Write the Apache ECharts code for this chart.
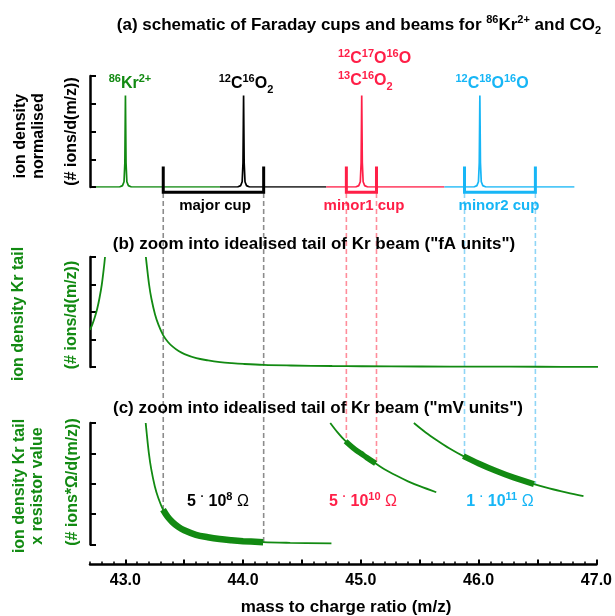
<!DOCTYPE html>
<html>
<head>
<meta charset="utf-8">
<script src="https://cdn.jsdelivr.net/npm/echarts@6/dist/echarts.min.js"></script>
<style>
  html, body { margin: 0; padding: 0; background: #fff; }
  #main { width: 615px; height: 616px; }
</style>
</head>
<body>
<div id="main"></div>
<script>
// x range (m/z)
const xMin = 42.7
const xMax = 47.0
const majorTicks = [43.0, 43.5, 44.0, 44.5, 45.0, 45.5, 46.0, 46.5, 47.0]
const tickLabels = [43.0, 44.0, 45.0, 46.0, 47.0]

// (a) beams: peak centre, start/end of the baseline segment
const beamCenters = [43.0, 44.0, 45.0, 46.0]
const beamStart = [42.75, 43.8, 44.7, 45.7]
const beamEnd = [43.8, 44.7, 45.7, 46.8]
// shape of one normalised peak (offset from centre, height)
const peakOffsets = [-0.05, -0.025, -0.012, -0.005, -0.002, 0, 0.002, 0.005, 0.012, 0.025, 0.05]
const peakHeights = [0, 0.05, 0.19, 0.87, 2.3, 3.3, 2.3, 0.87, 0.19, 0.05, 0]

// Faraday cups (edges in m/z)
const cupNames = ['major cup', 'minor1 cup', 'minor2 cup']
const cupLo = [43.32, 44.87, 45.87]
const cupHi = [44.17, 45.125, 46.47]
const cupTop = 0.74
const cupFloor = -0.19

// (b) tail of the Kr beam, "fA units"
const tailLeftMz = [42.70, 42.72, 42.74, 42.76, 42.78, 42.80, 42.82, 42.827]
const tailLeftB = [1.35, 1.55, 1.80, 2.10, 2.50, 3.00, 3.70, 4.00]
const tailMz = [43.173, 43.18, 43.20, 43.22, 43.25, 43.28, 43.32, 43.36, 43.40, 43.45, 43.50, 43.60,
  43.70, 43.80, 43.90, 44.00, 44.17, 44.40, 44.75, 45.00, 45.50, 46.00, 46.50, 47.00]
const tailB = [4.00, 3.72, 3.00, 2.48, 1.92, 1.53, 1.15, 0.91, 0.74, 0.58, 0.47, 0.32,
  0.24, 0.18, 0.14, 0.11, 0.075, 0.055, 0.036, 0.028, 0.018, 0.012, 0.009, 0.007]

// (c) tail x resistor value, "mV units"
const c1Mz = tailMz.slice(0, 19)
const c1Val = tailB.slice(0, 19)
const c2Mz = [44.74, 44.80, 44.87, 44.95, 45.00, 45.05, 45.125, 45.20, 45.30, 45.40, 45.50, 45.64]
const c2Val = [4.00, 3.70, 3.40, 3.13, 3.00, 2.86, 2.67, 2.48, 2.27, 2.08, 1.92, 1.72]
const c3Mz = [45.45, 45.55, 45.65, 45.75, 45.87, 46.00, 46.15, 46.30, 46.47, 46.60, 46.75, 46.89]
const c3Val = [4.00, 3.69, 3.42, 3.17, 2.91, 2.67, 2.42, 2.20, 1.99, 1.85, 1.71, 1.59]

const GREEN = '#128a12', RED = '#ff1f47', BLUE = '#17b6f6', BLACK = '#000'
const beamColors = [GREEN, BLACK, RED, BLUE]
const cupColors = [BLACK, RED, BLUE]
const dashColors = ['#8c8c8c', '#ff8d9b', '#8fd5f6']
const FONT = '"Liberation Sans", Arial, Helvetica, sans-serif'

const zip = (a, b) => a.map((x, i) => [x, b[i]])

// grids (a), (b), (c) and one overlay for the dashed cup lines
const gA = { left: 90, right: 17, top: 76, height: 111 }
const gB = { left: 90, right: 17, top: 257, height: 110 }
const gC = { left: 90, right: 17, top: 423, height: 121.5 }
const overlayTop = 193
const gD = { left: 90, right: 17, top: overlayTop, height: gC.top + gC.height - overlayTop }
const overlayMax = gD.height / (gC.height / 4)

var myChart = echarts.init(document.getElementById('main'))

function yAx(gi) {
  return {
    gridIndex: gi, type: 'value', min: 0, max: 4, interval: 1,
    axisLine: { show: true, onZero: false, lineStyle: { color: BLACK, width: 2.5 } },
    axisTick: { show: true, inside: true, length: 6, lineStyle: { color: BLACK, width: 2 } },
    axisLabel: { show: false }, splitLine: { show: false }
  }
}
function hiddenX(gi) {
  return { gridIndex: gi, type: 'value', min: xMin, max: xMax, show: false, axisLine: { onZero: false } }
}

let series = []
const SMOOTH = 0.35

// (a) beams
beamCenters.forEach((c, i) => {
  let d = [[beamStart[i], 0]]
  peakOffsets.forEach((o, k) => d.push([+(c + o).toFixed(4), peakHeights[k]]))
  d.push([beamEnd[i], 0])
  series.push({
    type: 'line', xAxisIndex: 0, yAxisIndex: 0, data: d, symbol: 'none',
    lineStyle: { color: beamColors[i], width: 1.7 }, z: 2
  })
})
// (a) cups
cupLo.forEach((lo, i) => {
  series.push({
    type: 'line', xAxisIndex: 0, yAxisIndex: 0, clip: false, symbol: 'none',
    data: [[lo, cupTop], [lo, cupFloor], [cupHi[i], cupFloor], [cupHi[i], cupTop]],
    lineStyle: { color: cupColors[i], width: 3, join: 'miter' }, z: 3
  })
})

// (b) tail
series.push({
  type: 'line', xAxisIndex: 1, yAxisIndex: 1, data: zip(tailLeftMz, tailLeftB),
  symbol: 'none', smooth: SMOOTH, lineStyle: { color: GREEN, width: 1.8 }, z: 2
})
series.push({
  type: 'line', xAxisIndex: 1, yAxisIndex: 1, data: zip(tailMz, tailB),
  symbol: 'none', smooth: SMOOTH, lineStyle: { color: GREEN, width: 1.8 }, z: 2
})

// (c) curves, thick where a cup collects them
const cCurves = [[c1Mz, c1Val, 6.5], [c2Mz, c2Val, 5.5], [c3Mz, c3Val, 6]]
cCurves.forEach(([mz, val, w], i) => {
  series.push({
    type: 'line', xAxisIndex: 2, yAxisIndex: 2, data: zip(mz, val),
    symbol: 'none', smooth: SMOOTH, lineStyle: { color: GREEN, width: 1.8 }, z: 2
  })
  let a = mz.indexOf(cupLo[i]), b = mz.indexOf(cupHi[i])
  series.push({
    type: 'line', xAxisIndex: 2, yAxisIndex: 2, data: zip(mz.slice(a, b + 1), val.slice(a, b + 1)),
    symbol: 'none', smooth: SMOOTH, lineStyle: { color: GREEN, width: w, cap: 'butt' }, z: 3
  })
  // dashed lines from the cup down to the curve in (c)
  ;[a, b].forEach(k => {
    series.push({
      type: 'line', xAxisIndex: 4, yAxisIndex: 3, symbol: 'none',
      data: [[mz[k], overlayMax], [mz[k], val[k]]],
      lineStyle: { color: dashColors[i], width: 1.6, type: [5, 3] }, z: 1
    })
  })
})

// texts
const RICH = {
  m: { fontFamily: FONT, fontSize: 16, fontWeight: 'bold', lineHeight: 22 },
  t: { fontFamily: FONT, fontSize: 17, fontWeight: 'bold', lineHeight: 22 },
  s: { fontFamily: FONT, fontSize: 11, fontWeight: 'bold', lineHeight: 11, verticalAlign: 'top' },
  b: { fontFamily: FONT, fontSize: 11, fontWeight: 'bold', lineHeight: 11, verticalAlign: 'bottom' },
  k: { fontFamily: FONT, fontSize: 15, fontWeight: 'bold', lineHeight: 22 },
  n: { fontFamily: FONT, fontSize: 16, fontWeight: 'bold', lineHeight: 22 },
  o: { fontFamily: FONT, fontSize: 16, fontWeight: 'normal', lineHeight: 22 },
  r: { fontFamily: FONT, fontSize: 16, fontWeight: 'bold', lineHeight: 18 }
}
function txt(x, y, text, fill, extra) {
  return Object.assign({
    type: 'text', x: x, y: y, z: 100, silent: true,
    style: Object.assign({
      text: text, fill: fill, rich: RICH,
      align: 'center', verticalAlign: 'middle', textAlign: 'center', textVerticalAlign: 'middle'
    }, (extra && extra.style) || {})
  }, extra ? { rotation: extra.rotation || 0 } : {})
}
const ROT = { rotation: Math.PI / 2 }

const graphics = [
  // titles
  txt(359, 25, '{t|(a) schematic of Faraday cups and beams for }{s|86}{t|Kr}{s|2+}{t| and CO}{b|2}', BLACK),
  txt(314, 244, '{t|(b) zoom into idealised tail of Kr beam ("fA units")}', BLACK),
  txt(318, 408, '{t|(c) zoom into idealised tail of Kr beam ("mV units")}', BLACK),
  // peak labels
  txt(130, 84, '{s|86}{m|Kr}{s|2+}', GREEN),
  txt(246, 84, '{s|12}{m|C}{s|16}{m|O}{b|2}', BLACK),
  txt(338, 70, '{s|12}{m|C}{s|17}{m|O}{s|16}{m|O}\n{s|13}{m|C}{s|16}{m|O}{b|2}', RED,
    { style: { align: 'left', textAlign: 'left' } }),
  txt(492, 84, '{s|12}{m|C}{s|18}{m|O}{s|16}{m|O}', BLUE),
  // cup labels
  txt(215, 205.5, '{k|' + cupNames[0] + '}', BLACK),
  txt(364, 205.5, '{k|' + cupNames[1] + '}', RED),
  txt(499, 205.5, '{k|' + cupNames[2] + '}', BLUE),
  // resistor labels
  txt(218, 502, '{n|5 }{s|·}{n| 10}{s|8}{o| Ω}', BLACK),
  txt(363, 502, '{n|5 }{s|·}{n| 10}{s|10}{o| Ω}', RED),
  txt(500, 502, '{n|1 }{s|·}{n| 10}{s|11}{o| Ω}', BLUE),
  // y axis names
  txt(29.5, 136, '{r|ion density}\n{r|normalised}', BLACK, ROT),
  txt(71.5, 131.5, '{r|(# ions/d(m/z))}', BLACK, ROT),
  txt(18.5, 314, '{r|ion density Kr tail}', GREEN, ROT),
  txt(71.5, 315, '{r|(# ions/d(m/z))}', GREEN, ROT),
  txt(29, 486, '{r|ion density Kr tail}\n{r|x resistor value}', GREEN, ROT),
  txt(73, 482, '{r|(# ions*Ω/d(m/z))}', GREEN, ROT),
  // x axis name
  txt(346, 607, '{t|mass to charge ratio (m/z)}', BLACK)
]

var option = {
  animation: false,
  backgroundColor: '#fff',
  grid: [gA, gB, gC, gD],
  xAxis: [
    hiddenX(0),
    hiddenX(1),
    {
      gridIndex: 2, type: 'value', min: xMin, max: xMax, position: 'bottom', offset: 20,
      axisLine: { show: true, onZero: false, lineStyle: { color: BLACK, width: 2.5 } },
      axisTick: { show: true, inside: true, length: 5, customValues: majorTicks, lineStyle: { color: BLACK, width: 2 } },
      axisLabel: {
        show: true, customValues: tickLabels, margin: 8,
        formatter: v => Number(v).toFixed(1),
        color: BLACK, fontSize: 16, fontWeight: 'bold', fontFamily: FONT
      },
      splitLine: { show: false }
    },
    {
      gridIndex: 2, type: 'value', min: xMin, max: xMax, interval: 0.1, position: 'bottom', offset: 20,
      axisLine: { show: false, onZero: false },
      axisTick: { show: true, inside: true, length: 3, lineStyle: { color: BLACK, width: 1.5 } },
      axisLabel: { show: false }, splitLine: { show: false }
    },
    hiddenX(3)
  ],
  yAxis: [
    yAx(0), yAx(1), yAx(2),
    { gridIndex: 3, type: 'value', min: 0, max: overlayMax, show: false }
  ],
  series: series,
  graphic: graphics
}

myChart.setOption(option)
</script>
</body>
</html>
